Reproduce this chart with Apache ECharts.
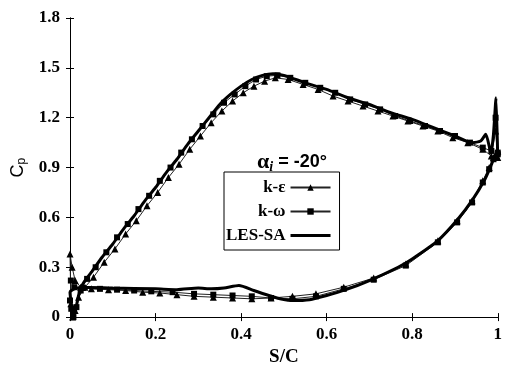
<!DOCTYPE html>
<html>
<head>
<meta charset="utf-8">
<script src="https://cdn.jsdelivr.net/npm/echarts@6/dist/echarts.min.js"></script>
<style>
  html, body { margin: 0; padding: 0; background: #fff; }
  #chart { width: 505px; height: 372px; }
</style>
</head>
<body>
<div id="chart"></div>
<script>
// axis ticks
const xTicks = [0, 0.2, 0.4, 0.6, 0.8, 1];
const yTicks = [0, 0.3, 0.6, 0.9, 1.2, 1.5, 1.8];

// k-epsilon: upper side from trailing edge to leading edge, then lower side back
const keUpper = [
  [1.0, 0.96], [0.995, 1.12], [0.985, 0.97], [0.965, 1.01], [0.93, 1.05], [0.895, 1.08],
  [0.86, 1.12], [0.825, 1.15], [0.79, 1.18], [0.755, 1.21], [0.72, 1.24], [0.685, 1.27],
  [0.65, 1.30], [0.615, 1.33], [0.58, 1.37], [0.545, 1.40], [0.51, 1.43], [0.48, 1.44],
  [0.455, 1.42], [0.43, 1.39], [0.405, 1.35], [0.38, 1.30], [0.355, 1.24], [0.33, 1.17],
  [0.305, 1.09], [0.28, 1.01], [0.255, 0.92], [0.23, 0.84], [0.205, 0.75], [0.18, 0.67],
  [0.155, 0.58], [0.13, 0.50], [0.105, 0.41], [0.08, 0.33], [0.055, 0.24], [0.035, 0.18],
  [0.02, 0.12], [0.012, 0.04], [0.006, 0.0], [0.002, 0.08], [0, 0.38]
];
const keLower = [
  [0.005, 0.30], [0.012, 0.22], [0.025, 0.18], [0.05, 0.17], [0.09, 0.165], [0.13, 0.16],
  [0.17, 0.15], [0.21, 0.145], [0.25, 0.135], [0.29, 0.125], [0.335, 0.12], [0.38, 0.115],
  [0.425, 0.11], [0.47, 0.115], [0.52, 0.125], [0.575, 0.14], [0.64, 0.18], [0.71, 0.235],
  [0.785, 0.32], [0.86, 0.46], [0.905, 0.58], [0.94, 0.70], [0.965, 0.82], [0.98, 0.90],
  [0.99, 0.96], [1.0, 1.0]
];

// k-omega
const kwUpper = [
  [1.0, 0.98], [0.995, 1.2], [0.985, 1.0], [0.965, 1.02], [0.935, 1.05], [0.9, 1.09],
  [0.865, 1.12], [0.83, 1.15], [0.795, 1.18], [0.76, 1.21], [0.725, 1.25], [0.69, 1.28],
  [0.655, 1.31], [0.62, 1.35], [0.585, 1.38], [0.55, 1.41], [0.515, 1.44], [0.485, 1.455],
  [0.46, 1.45], [0.435, 1.43], [0.41, 1.39], [0.385, 1.34], [0.36, 1.29], [0.335, 1.22],
  [0.31, 1.15], [0.285, 1.07], [0.26, 0.99], [0.235, 0.90], [0.21, 0.82], [0.185, 0.73],
  [0.16, 0.65], [0.135, 0.56], [0.11, 0.48], [0.085, 0.39], [0.06, 0.30], [0.04, 0.23],
  [0.025, 0.16], [0.015, 0.06], [0.008, 0.0], [0.003, 0.05], [0, 0.10]
];
const kwLower = [
  [0.002, 0.22], [0.01, 0.18], [0.03, 0.175], [0.07, 0.17], [0.11, 0.165], [0.15, 0.16],
  [0.19, 0.155], [0.24, 0.15], [0.29, 0.14], [0.335, 0.135], [0.38, 0.13], [0.425, 0.125],
  [0.47, 0.115], [0.52, 0.11], [0.575, 0.125], [0.64, 0.17], [0.71, 0.225], [0.785, 0.31],
  [0.86, 0.45], [0.905, 0.57], [0.94, 0.69], [0.965, 0.81], [0.98, 0.89], [0.99, 0.95],
  [1.0, 0.99]
];

// LES-SA
const lesUpper = [
  [1.0, 0.95], [0.996, 1.32], [0.99, 1.1], [0.984, 0.99], [0.972, 1.10], [0.96, 1.06],
  [0.94, 1.05], [0.9, 1.09], [0.85, 1.14], [0.8, 1.19], [0.75, 1.23], [0.7, 1.28],
  [0.65, 1.32], [0.6, 1.37], [0.55, 1.41], [0.5, 1.455], [0.475, 1.465], [0.45, 1.455],
  [0.425, 1.43], [0.4, 1.39], [0.375, 1.34], [0.35, 1.28], [0.325, 1.20], [0.3, 1.12],
  [0.275, 1.04], [0.25, 0.95], [0.225, 0.87], [0.2, 0.78], [0.175, 0.70], [0.15, 0.61],
  [0.125, 0.53], [0.1, 0.44], [0.075, 0.36], [0.05, 0.27], [0.03, 0.20], [0.02, 0.13],
  [0.013, 0.04], [0.008, 0.0], [0.004, 0.04], [0.001, 0.12], [0, 0.15]
];
const lesLower = [
  [0.01, 0.17], [0.03, 0.18], [0.1, 0.175], [0.2, 0.17], [0.25, 0.165], [0.3, 0.175],
  [0.33, 0.17], [0.36, 0.175], [0.395, 0.19], [0.43, 0.16], [0.465, 0.13], [0.5, 0.105],
  [0.52, 0.10], [0.56, 0.105], [0.6, 0.13], [0.645, 0.165], [0.7, 0.22], [0.767, 0.30],
  [0.8, 0.35], [0.86, 0.46], [0.907, 0.59], [0.942, 0.71], [0.97, 0.83], [0.984, 0.91],
  [0.993, 0.97], [1.0, 1.0]
];

const serif = '"Liberation Serif", "DejaVu Serif", serif';
const sans = '"Liberation Sans", Arial, sans-serif';
const chart = echarts.init(document.getElementById('chart'));

const tickLabel = { color: '#000', fontFamily: serif, fontWeight: 'bold', fontSize: 17 };

chart.setOption({
  animation: false,
  backgroundColor: '#fff',
  grid: { left: 70, right: 6, top: 18, bottom: 47, containLabel: false },
  title: {
    text: '{a|α}{i|i}{t| = -20°}',
    left: 252,
    top: 145,
    textStyle: {
      rich: {
        a: { fontFamily: serif, fontWeight: 'bold', fontSize: 22, color: '#000' },
        i: { fontFamily: serif, fontStyle: 'italic', fontWeight: 'bold', fontSize: 14, color: '#000', verticalAlign: 'bottom', padding: [10, 0, 0, 0] },
        t: { fontFamily: sans, fontSize: 18, color: '#000' }
      }
    }
  },
  legend: {
    orient: 'vertical',
    left: 224,
    top: 172,
    align: 'right',
    itemWidth: 40,
    itemHeight: 8,
    itemGap: 7,
    padding: [7, 8, 6, 2],
    borderColor: '#000',
    borderWidth: 1,
    borderRadius: 0,
    textStyle: { color: '#000', fontFamily: serif, fontWeight: 'bold', fontSize: 17 },
    data: [
      'k-ε',
      'k-ω',
      { name: 'LES-SA', icon: 'path://M0,0 L40,0 L40,3 L0,3 Z', itemStyle: { color: '#000' } }
    ]
  },
  xAxis: [
    {
      type: 'value', min: 0, max: 1, interval: 0.2,
      name: 'S/C', nameLocation: 'middle', nameGap: 27,
      nameTextStyle: { color: '#000', fontFamily: serif, fontWeight: 'bold', fontSize: 19 },
      axisLine: { show: true, lineStyle: { color: '#000', width: 1 } },
      axisTick: { show: true, inside: true, length: 4, lineStyle: { color: '#000' } },
      axisLabel: { ...tickLabel, margin: 9, formatter: v => xTicks.includes(+v.toFixed(1)) ? String(+v.toFixed(1)) : '' },
      splitLine: { show: false }
    },
    {
      type: 'value', min: 0, max: 1, interval: 0.2, position: 'top',
      axisLine: { show: true, lineStyle: { color: '#000', width: 1 } },
      axisTick: { show: true, inside: true, length: 4, lineStyle: { color: '#000' } },
      axisLabel: { show: false },
      splitLine: { show: false }
    }
  ],
  yAxis: [
    {
      type: 'value', min: 0, max: 1.8, interval: 0.3,
      name: '{c|C}{p|p}', nameLocation: 'middle', nameGap: 42, nameRotate: 90,
      nameTextStyle: {
        rich: {
          c: { color: '#000', fontFamily: sans, fontSize: 18 },
          p: { color: '#000', fontFamily: sans, fontSize: 12, verticalAlign: 'bottom', padding: [8, 0, 0, 0] }
        }
      },
      axisLine: { show: true, lineStyle: { color: '#000', width: 1 } },
      axisTick: { show: true, inside: true, length: 4, lineStyle: { color: '#000' } },
      axisLabel: { ...tickLabel, margin: 10, formatter: v => yTicks.includes(+v.toFixed(1)) ? String(+v.toFixed(1)) : '' },
      splitLine: { show: false }
    },
    {
      type: 'value', min: 0, max: 1.8, interval: 0.3, position: 'right',
      axisLine: { show: true, lineStyle: { color: '#000', width: 1 } },
      axisTick: { show: true, inside: true, length: 4, lineStyle: { color: '#000' } },
      axisLabel: { show: false },
      splitLine: { show: false }
    }
  ],
  series: [
    {
      name: 'k-ε', type: 'line',
      data: keUpper.concat(keLower),
      symbol: 'triangle', symbolSize: 7,
      itemStyle: { color: '#000' },
      lineStyle: { color: '#222', width: 1 },
      z: 3
    },
    {
      name: 'k-ω', type: 'line',
      data: kwUpper.concat(kwLower),
      symbol: 'rect', symbolSize: 6,
      itemStyle: { color: '#000' },
      lineStyle: { color: '#222', width: 1 },
      z: 3
    },
    {
      name: 'LES-SA', type: 'line',
      data: lesUpper.concat(lesLower),
      symbol: 'none', smooth: 0.2,
      itemStyle: { color: '#000' },
      lineStyle: { color: '#000', width: 3 },
      z: 4
    }
  ]
});
</script>
</body>
</html>
